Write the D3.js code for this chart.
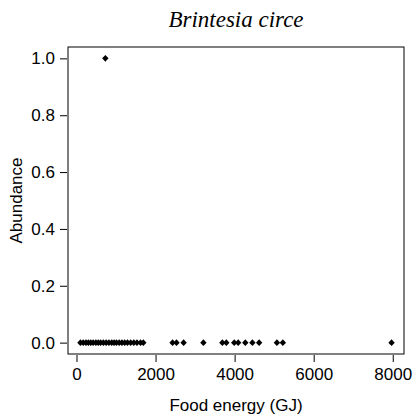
<!DOCTYPE html>
<html>
<head>
<meta charset="utf-8">
<script src="https://cdn.jsdelivr.net/npm/d3@7"></script>
<style>
  body { margin: 0; background: #fff; }
  svg { display: block; }
</style>
</head>
<body>
<div id="chart"></div>
<script>
// DATA
const title = "Brintesia circe";
const foodEnergy = [
  100, 170, 240, 300, 360, 420, 490, 550, 610, 680, 750, 820, 890, 950, 1010,
  1080, 1150, 1220, 1290, 1370, 1450, 1530, 1620, 1690,
  730,
  2430, 2530, 2710, 3210, 3690, 3790, 3990, 4090, 4270, 4450, 4620,
  5070, 5220, 7970
];
const abundance = [
  0, 0, 0, 0, 0, 0, 0, 0, 0, 0, 0, 0, 0, 0, 0,
  0, 0, 0, 0, 0, 0, 0, 0, 0,
  1,
  0, 0, 0, 0, 0, 0, 0, 0, 0, 0, 0,
  0, 0, 0
];
const xTicks = [0, 2000, 4000, 6000, 8000];
const yTicks = [0, 0.2, 0.4, 0.6, 0.8, 1.0];

const W = 415, H = 420;
const BOX = { LEFT: 68, RIGHT: 404, TOP: 47, BOTTOM: 354 };

const svg = d3.select("#chart").append("svg")
  .attr("width", W)
  .attr("height", H);

// SCALES (R style 4% padding)
const xr = d3.extent(foodEnergy);
const xp = (xr[1] - xr[0]) * 0.04;
const x = d3.scaleLinear().domain([xr[0] - xp, xr[1] + xp]).range([BOX.LEFT, BOX.RIGHT]);
const y = d3.scaleLinear().domain([-0.04, 1.04]).range([BOX.BOTTOM, BOX.TOP]);

// BOX
svg.append("rect")
  .attr("x", BOX.LEFT)
  .attr("y", BOX.TOP)
  .attr("width", BOX.RIGHT - BOX.LEFT)
  .attr("height", BOX.BOTTOM - BOX.TOP)
  .attr("fill", "none")
  .attr("stroke", "#000")
  .attr("stroke-width", 1);

// AXES
const xAxis = svg.append("g")
  .attr("transform", `translate(0, ${BOX.BOTTOM + 1})`)
  .call(d3.axisBottom(x).tickValues(xTicks).tickFormat(d3.format("d")).tickSize(7).tickPadding(6));
const yAxis = svg.append("g")
  .attr("transform", `translate(${BOX.LEFT - 1}, 0)`)
  .call(d3.axisLeft(y).tickValues(yTicks).tickFormat(d3.format(".1f")).tickSize(7).tickPadding(5));

[xAxis, yAxis].forEach(g => {
  g.select(".domain").remove();
  g.selectAll("line").attr("stroke", "#000");
  g.selectAll("text")
    .attr("fill", "#000")
    .style("font-family", "Liberation Sans, Arial, sans-serif")
    .style("font-size", "17px");
});

// AXIS TITLES
svg.append("text")
  .attr("x", (BOX.LEFT + BOX.RIGHT) / 2)
  .attr("y", 411)
  .attr("text-anchor", "middle")
  .style("font-family", "Liberation Sans, Arial, sans-serif")
  .style("font-size", "17px")
  .text("Food energy (GJ)");

svg.append("text")
  .attr("transform", `translate(22, ${(BOX.TOP + BOX.BOTTOM) / 2}) rotate(-90)`)
  .attr("text-anchor", "middle")
  .style("font-family", "Liberation Sans, Arial, sans-serif")
  .style("font-size", "17px")
  .text("Abundance");

// TITLE
svg.append("text")
  .attr("x", (BOX.LEFT + BOX.RIGHT) / 2)
  .attr("y", 27)
  .attr("text-anchor", "middle")
  .style("font-family", "Liberation Serif, Times New Roman, serif")
  .style("font-style", "italic")
  .style("font-size", "23px")
  .text(title);

// POINTS (filled diamonds, like pch 18)
const pts = foodEnergy.map((d, i) => ({ e: d, a: abundance[i] }));
svg.append("g")
  .selectAll("path")
  .data(pts)
  .enter()
  .append("path")
  .attr("d", "M0,-3.4L3.2,0L0,3.4L-3.2,0Z")
  .attr("transform", d => `translate(${x(d.e)}, ${y(d.a)})`)
  .attr("fill", "#000");
</script>
</body>
</html>
